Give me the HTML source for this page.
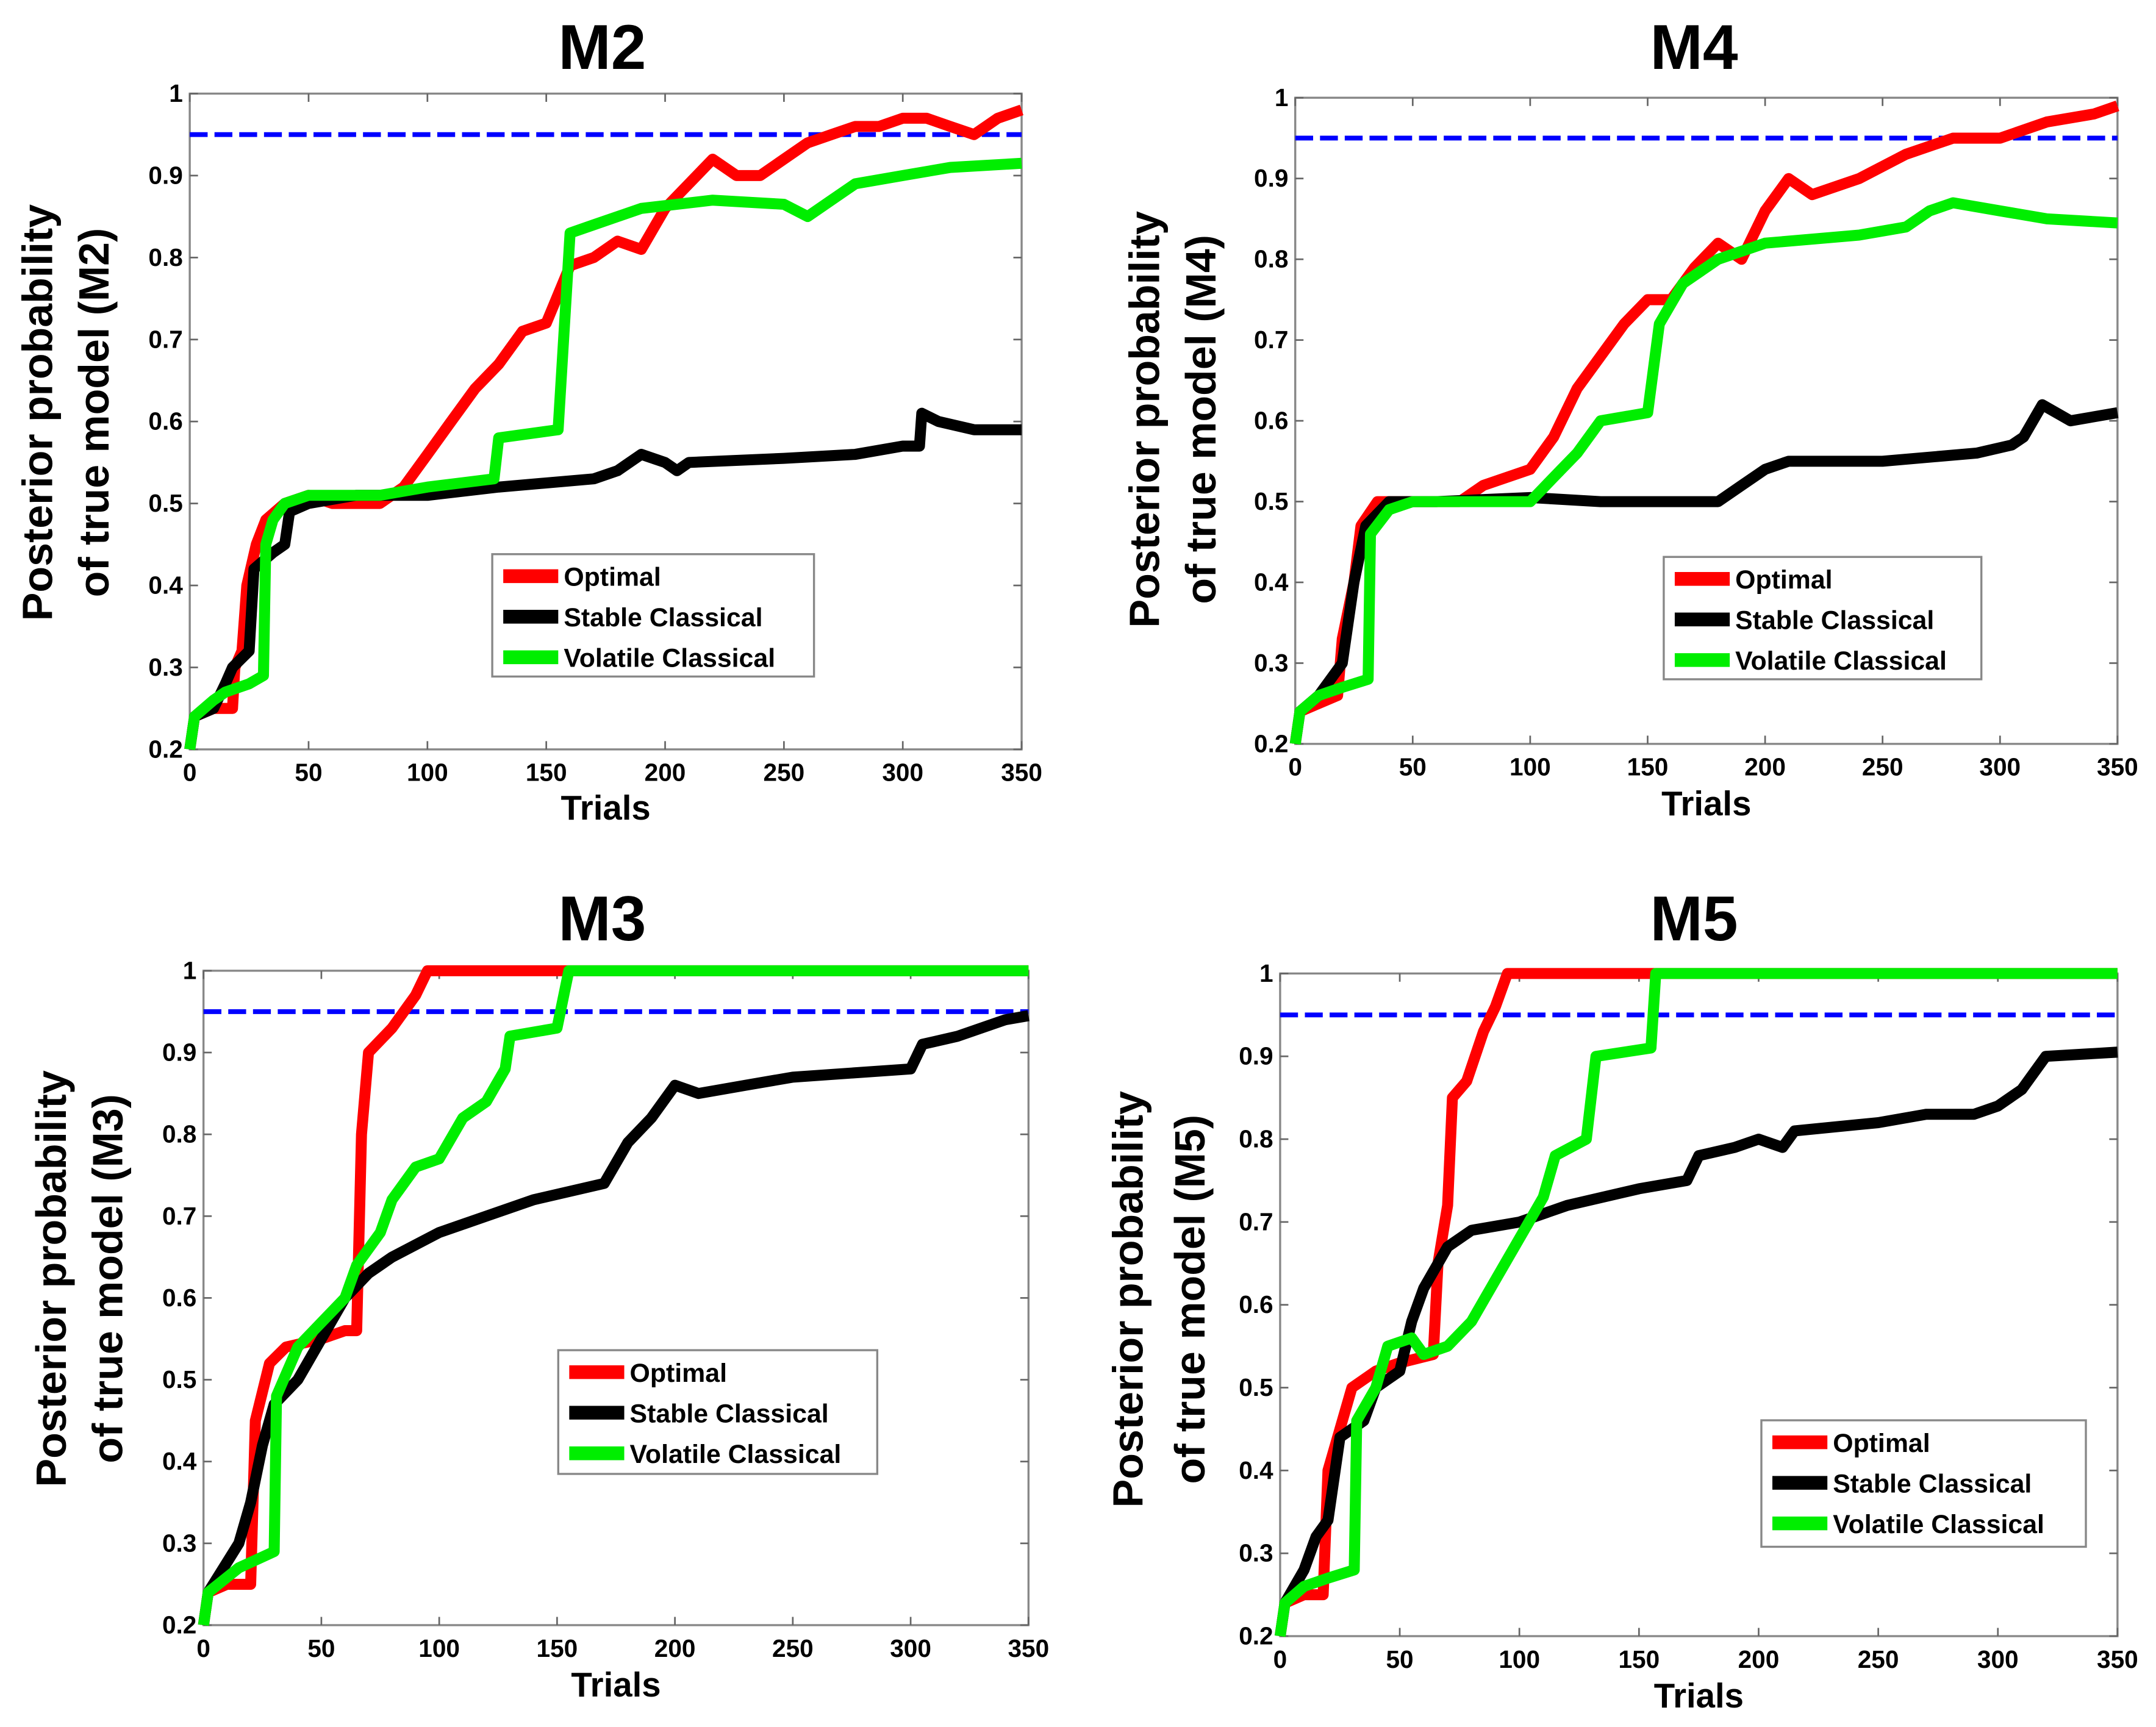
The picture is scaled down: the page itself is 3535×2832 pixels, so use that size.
<!DOCTYPE html>
<html><head><meta charset="utf-8"><style>
html,body{margin:0;padding:0;background:#fff}
svg{display:block}
text{font-family:"Liberation Sans",Arial,sans-serif}
</style></head><body>
<svg id="fig" width="3535" height="2832" viewBox="0 0 1568 1256" xmlns="http://www.w3.org/2000/svg"></svg>
<script>
// ---- data ----
const xTicks=[0,50,100,150,200,250,300,350];
const yTicks=[0.2,0.3,0.4,0.5,0.6,0.7,0.8,0.9,1];
const yTickLabels=["0.2","0.3","0.4","0.5","0.6","0.7","0.8","0.9","1"];
const threshold=0.95;
const seriesNames=["Optimal","Stable Classical","Volatile Classical"];
const panelTitles=["M2","M4","M3","M5"];

const m2OptX=[0,2,10,18,19,22,24,28,32,40,50,60,70,80,90,100,110,120,130,140,150,160,170,180,190,200,210,220,230,240,250,260,270,280,290,300,310,320,330,340,350];
const m2OptY=[0.2,0.24,0.25,0.25,0.3,0.32,0.4,0.45,0.48,0.5,0.51,0.5,0.5,0.5,0.52,0.56,0.6,0.64,0.67,0.71,0.72,0.79,0.8,0.82,0.81,0.86,0.89,0.92,0.9,0.9,0.92,0.94,0.95,0.96,0.96,0.97,0.97,0.96,0.95,0.97,0.98];
const m2StbX=[0,2,10,15,18,25,27,35,40,42,50,70,100,130,170,180,190,200,205,210,250,280,300,307,308,315,330,350];
const m2StbY=[0.2,0.24,0.25,0.28,0.3,0.32,0.42,0.44,0.45,0.49,0.5,0.51,0.51,0.52,0.53,0.54,0.56,0.55,0.54,0.55,0.555,0.56,0.57,0.57,0.61,0.6,0.59,0.59];
const m2VolX=[0,2,10,15,25,31,32,35,40,50,80,100,128,130,155,160,170,190,220,250,260,270,280,300,320,350];
const m2VolY=[0.2,0.24,0.26,0.27,0.28,0.29,0.45,0.48,0.5,0.51,0.51,0.52,0.53,0.58,0.59,0.83,0.84,0.86,0.87,0.865,0.85,0.87,0.89,0.9,0.91,0.915];

const m4OptX=[0,2,10,18,20,25,28,35,50,70,80,100,110,120,130,140,150,160,170,180,190,200,210,220,240,260,280,300,320,340,350];
const m4OptY=[0.2,0.24,0.25,0.26,0.33,0.4,0.47,0.5,0.5,0.5,0.52,0.54,0.58,0.64,0.68,0.72,0.75,0.75,0.79,0.82,0.8,0.86,0.9,0.88,0.9,0.93,0.95,0.95,0.97,0.98,0.99];
const m4StbX=[0,2,10,20,25,30,40,60,100,130,180,190,200,210,250,290,305,310,318,330,350];
const m4StbY=[0.2,0.24,0.26,0.3,0.4,0.47,0.5,0.5,0.505,0.5,0.5,0.52,0.54,0.55,0.55,0.56,0.57,0.58,0.62,0.6,0.61];
const m4VolX=[0,2,10,20,31,32,40,50,70,100,110,120,130,150,155,165,180,200,240,260,270,280,300,320,350];
const m4VolY=[0.2,0.24,0.26,0.27,0.28,0.46,0.49,0.5,0.5,0.5,0.53,0.56,0.6,0.61,0.72,0.77,0.8,0.82,0.83,0.84,0.86,0.87,0.86,0.85,0.845];

const m3OptX=[0,2,10,20,22,28,35,50,60,65,67,70,80,90,95,350];
const m3OptY=[0.2,0.24,0.25,0.25,0.45,0.52,0.54,0.55,0.56,0.56,0.8,0.9,0.93,0.97,1,1];
const m3StbX=[0,2,15,20,25,30,40,50,60,70,80,100,120,140,170,180,190,200,210,230,250,300,305,320,340,350];
const m3StbY=[0.2,0.24,0.3,0.35,0.42,0.47,0.5,0.55,0.6,0.63,0.65,0.68,0.7,0.72,0.74,0.79,0.82,0.86,0.85,0.86,0.87,0.88,0.91,0.92,0.94,0.945];
const m3VolX=[0,2,15,30,31,40,50,60,65,75,80,90,100,110,120,128,130,150,155,350];
const m3VolY=[0.2,0.24,0.27,0.29,0.48,0.54,0.57,0.6,0.64,0.68,0.72,0.76,0.77,0.82,0.84,0.88,0.92,0.93,1,1];

const m5OptX=[0,2,10,18,20,25,30,40,50,64,66,70,72,78,85,90,95,350];
const m5OptY=[0.2,0.24,0.25,0.25,0.4,0.45,0.5,0.52,0.53,0.54,0.65,0.72,0.85,0.87,0.93,0.96,1,1];
const m5StbX=[0,2,10,15,20,25,35,40,50,55,60,70,80,100,120,150,170,175,190,200,210,215,250,270,290,300,310,320,350];
const m5StbY=[0.2,0.24,0.28,0.32,0.34,0.44,0.46,0.5,0.52,0.58,0.62,0.67,0.69,0.7,0.72,0.74,0.75,0.78,0.79,0.8,0.79,0.81,0.82,0.83,0.83,0.84,0.86,0.9,0.905];
const m5VolX=[0,2,10,20,31,32,40,45,55,60,70,80,90,100,110,115,128,132,155,157,350];
const m5VolY=[0.2,0.24,0.26,0.27,0.28,0.46,0.5,0.55,0.56,0.54,0.55,0.58,0.63,0.68,0.73,0.78,0.8,0.9,0.91,1,1];

// ---- rendering ----
const NS="http://www.w3.org/2000/svg";
const svg=document.getElementById('fig');
function mk(tag,attrs,parent){const e=document.createElementNS(NS,tag);for(const k in attrs)e.setAttribute(k,attrs[k]);(parent||svg).appendChild(e);return e;}
const colors=["#ff0000","#000000","#00ee00"];
const panels=[
 {title:panelTitles[0],L:138,R:743,T:68,B:545,tx:438,ty:50,xl:588,yl:[27,68],yc:300,leg:[358,403,234,89],ylab:"(M2)",data:[[m2OptX,m2OptY],[m2StbX,m2StbY],[m2VolX,m2VolY]]},
 {title:panelTitles[1],L:942,R:1540,T:71,B:541,tx:1232,ty:50,xl:585,yl:[832,873],yc:305,leg:[1210,405,231,89],ylab:"(M4)",data:[[m4OptX,m4OptY],[m4StbX,m4StbY],[m4VolX,m4VolY]]},
 {title:panelTitles[2],L:148,R:748,T:706,B:1182,tx:438,ty:684,xl:1226,yl:[37,78],yc:930,leg:[406,982,232,90],ylab:"(M3)",data:[[m3OptX,m3OptY],[m3StbX,m3StbY],[m3VolX,m3VolY]]},
 {title:panelTitles[3],L:931,R:1540,T:708,B:1190,tx:1232,ty:684,xl:1234,yl:[820,865],yc:945,leg:[1281,1033,236,92],ylab:"(M5)",data:[[m5OptX,m5OptY],[m5StbX,m5StbY],[m5VolX,m5VolY]]}
];
panels.forEach((p,pi)=>{
 const g=mk('g',{});
 
 
 const sx=v=>p.L+(v-0)/350*(p.R-p.L);
 const sy=v=>p.B-(v-0.2)/0.8*(p.B-p.T);
 const t=mk('text',{x:p.tx,y:p.ty,'text-anchor':'middle','font-size':46,'font-weight':'bold'},g);
 t.textContent=p.title;
 
 
 const ax=mk('rect',{x:p.L,y:p.T,width:p.R-p.L,height:p.B-p.T,fill:'#fff',stroke:'#888','stroke-width':1.5},g);
 
 
 xTicks.forEach(v=>{
  const x=sx(v);
  mk('line',{x1:x,y1:p.B,x2:x,y2:p.B-6,stroke:'#666','stroke-width':1.2},g);
  mk('line',{x1:x,y1:p.T,x2:x,y2:p.T+6,stroke:'#666','stroke-width':1.2},g);
  const tl=mk('text',{x:x,y:p.B+23,'text-anchor':'middle','font-size':18,'font-weight':'bold'},g);
  tl.textContent=String(v);
  
  
 });
 yTicks.forEach((v,i)=>{
  const y=sy(v);
  mk('line',{x1:p.L,y1:y,x2:p.L+6,y2:y,stroke:'#666','stroke-width':1.2},g);
  mk('line',{x1:p.R,y1:y,x2:p.R-6,y2:y,stroke:'#666','stroke-width':1.2},g);
  const tl=mk('text',{x:p.L-5,y:y+6,'text-anchor':'end','font-size':18,'font-weight':'bold'},g);
  tl.textContent=yTickLabels[i];
  
  
 });
 const xt=mk('text',{x:(p.L+p.R)/2,y:p.xl+8,'text-anchor':'middle','font-size':25,'font-weight':'bold'},g);
 xt.textContent="Trials";
 
 
 const y1=mk('text',{x:0,y:0,'text-anchor':'middle','font-size':31,'font-weight':'bold',transform:`translate(${p.yl[0]+11},${p.yc}) rotate(-90)`},g);
 y1.textContent="Posterior probability";
 
 
 const y2=mk('text',{x:0,y:0,'text-anchor':'middle','font-size':31,'font-weight':'bold',transform:`translate(${p.yl[1]+11},${p.yc}) rotate(-90)`},g);
 y2.textContent="of true model "+p.ylab;
 
 
 const th=mk('line',{x1:p.L,y1:sy(threshold),x2:p.R,y2:sy(threshold),stroke:'#0000ff','stroke-width':3.5,'stroke-dasharray':'13 5'},g);
 
 
 p.data.forEach((d,si)=>{
  const pts=d[0].map((x,i)=>sx(x).toFixed(1)+','+sy(d[1][i]).toFixed(1)).join(' ');
  const pl=mk('polyline',{points:pts,fill:'none',stroke:colors[si],'stroke-width':8,'stroke-linejoin':'round'},g);
  
  
 });
 const [lx,ly,lw,lh]=p.leg;
 const lg=mk('g',{},g);
 
 
 mk('rect',{x:lx,y:ly,width:lw,height:lh,fill:'#fff',stroke:'#888','stroke-width':1.5},lg);
 seriesNames.forEach((n,i)=>{
  const yy=ly+16+i*29.5;
  mk('line',{x1:lx+8,y1:yy,x2:lx+48,y2:yy,stroke:colors[i],'stroke-width':10},lg);
  const lt=mk('text',{x:lx+52,y:yy+7,'font-size':19,'font-weight':'bold'},lg);
  lt.textContent=n;
  
  
 });
});
</script>
</body></html>
